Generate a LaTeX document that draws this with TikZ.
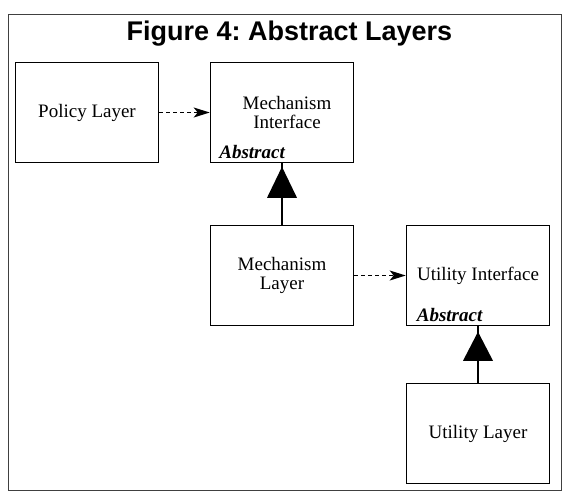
\documentclass[tikz,border=0pt]{standalone}
\usepackage{fontspec}
\setmainfont{Liberation Serif}
\newfontfamily\titlefont{Liberation Sans}
\usetikzlibrary{arrows.meta}
\frenchspacing
\begin{document}
\begin{tikzpicture}[x=1pt,y=-1pt,
  box/.style={draw, line width=1.6pt, rectangle, minimum width=143pt, minimum height=100pt, inner sep=0pt, align=center, font=\fontsize{19}{19.5}\selectfont},
  abs/.style={anchor=base west, inner sep=0pt, font=\fontsize{19}{19.5}\selectfont\bfseries\itshape},
  dep/.style={line width=1.4pt, dash pattern=on 4pt off 3pt, -{Stealth[length=16pt,width=10pt,inset=4pt]}},
  inh/.style={line width=1.8pt},
  tri/.style={fill=black}]
\useasboundingbox (0,0) rectangle (571,501);
\draw[line width=1pt, draw=black!75] (8.5,14.5) rectangle (561.5,490.5);
\node[anchor=base, inner sep=0pt, font=\titlefont\fontsize{27}{29}\selectfont\bfseries] (title) at (289.5,40.5) {Figure 4: Abstract Layers};

\node[box] (pol) at (87,112.5) {Policy Layer};
\node[box] (mi) at (282,112.5) {\hspace*{10pt}Mechanism\\\hspace*{10pt}Interface};
\node[box] (ml) at (282,275.5) {Mechanism\\Layer};
\node[box] (ui) at (478,275.5) {Utility Interface};
\node[box] (ul) at (478,433.5) {Utility Layer};

\node[abs] (mia) at ([xshift=9.5pt,yshift=4.5pt]mi.south west) {Abstract};
\node[abs] (uia) at ([xshift=11pt,yshift=4.5pt]ui.south west) {Abstract};

\draw[dep] (pol.east) -- (mi.west);
\draw[dep] (ml.east) -- (ui.west);

\draw[inh] (ml.north) -- (mi.south);
\fill[tri] ([yshift=-3.5pt]mi.south) -- ++(-15,31) -- ++(30,0) -- cycle;
\draw[inh] (ul.north) -- (ui.south);
\fill[tri] ([yshift=-5.5pt]ui.south) -- ++(-15,29) -- ++(30,0) -- cycle;
\end{tikzpicture}
\end{document}
